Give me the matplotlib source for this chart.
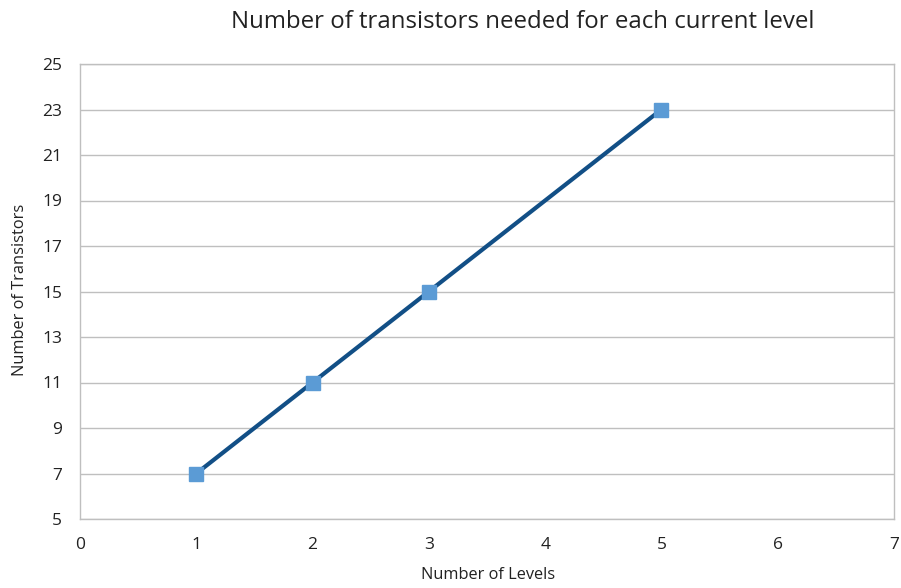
import matplotlib
matplotlib.use('Agg')
import matplotlib.pyplot as plt

levels = [1, 2, 3, 5]
transistors = [7, 11, 15, 23]
x_ticks = [0, 1, 2, 3, 4, 5, 6, 7]
y_ticks = [5, 7, 9, 11, 13, 15, 17, 19, 21, 23, 25]

plt.rcParams['font.family'] = ['Open Sans', 'DejaVu Sans']

fig = plt.figure(figsize=(9.01, 5.88), dpi=100)
ax = fig.add_axes([80 / 901, 69 / 588, 814 / 901, 455 / 588])

ax.plot(levels, transistors, color='#124f86', linewidth=3,
        marker='s', markersize=10, markerfacecolor='#5b9bd5',
        markeredgecolor='#5b9bd5', zorder=3)

ax.set_xlim(0, 7)
ax.set_ylim(5, 25)
ax.set_xticks(x_ticks)
ax.set_yticks(y_ticks)
ax.grid(axis='y', color='#bfbfbf', linewidth=1)
ax.set_axisbelow(True)
for s in ax.spines.values():
    s.set_color('#bfbfbf')
    s.set_linewidth(1)
ax.tick_params(length=0, labelsize=12.5, colors='#222222')
ax.tick_params(axis='x', pad=13)
ax.tick_params(axis='y', pad=13)

fig.text(523 / 901, 1 - 22 / 588, 'Number of transistors needed for each current level',
         ha='center', va='center', fontsize=17.3, color='#222222')
fig.text(488 / 901, 1 - 575 / 588, 'Number of Levels', ha='center', va='center',
         fontsize=11.8, color='#222222')
fig.text(20 / 901, 1 - 290 / 588, 'Number of Transistors', ha='center', va='center',
         rotation=90, fontsize=11.8, color='#222222')

fig.savefig('out.png', dpi=100)
